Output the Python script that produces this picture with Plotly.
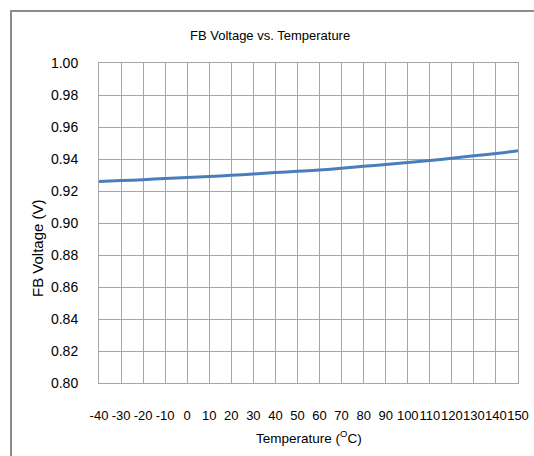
import plotly.graph_objects as go

temperature = [-40, -30, -20, -10, 0, 10, 20, 30, 40, 50, 60, 70, 80, 90, 100, 110, 120, 130, 140, 150]
fb_voltage = [0.9260, 0.9265, 0.9271, 0.9278, 0.9285, 0.9291, 0.9298, 0.9306, 0.9315, 0.9323,
              0.9331, 0.9342, 0.9354, 0.9365, 0.9378, 0.9390, 0.9404, 0.9420, 0.9434, 0.9452]
x_ticks = list(range(-40, 151, 10))
y_ticks = [0.80, 0.82, 0.84, 0.86, 0.88, 0.90, 0.92, 0.94, 0.96, 0.98, 1.00]

W, H = 534, 456
L, R, T, B = 99, 16, 63, 73
pw, ph = W - L - R, H - T - B

FONT = "Liberation Sans, Arial, sans-serif"
GRID = "#a6a6a6"

fig = go.Figure()
fig.add_trace(go.Scatter(
    x=temperature, y=fb_voltage, mode="lines",
    line=dict(color="#4a7ebb", width=3, shape="spline", smoothing=0.6),
    hoverinfo="x+y", showlegend=False,
))

fig.update_layout(
    width=W, height=H,
    margin=dict(l=L, r=R, t=T, b=B, pad=0, autoexpand=False),
    paper_bgcolor="white", plot_bgcolor="white",
    font=dict(family=FONT, size=14, color="#000000"),
    xaxis=dict(
        range=[-40, 150], tickvals=x_ticks, ticktext=[str(v) for v in x_ticks],
        tickangle=0, automargin=False,
        showgrid=True, gridcolor=GRID, gridwidth=1,
        showline=True, linecolor=GRID, linewidth=1, mirror=True,
        ticks="outside", ticklen=0, tickcolor="rgba(0,0,0,0)",
        ticklabelstandoff=20, zeroline=False,
        tickfont=dict(family=FONT, size=13),
    ),
    yaxis=dict(
        range=[0.80, 1.00], tickvals=y_ticks, ticktext=[f"{v:.2f}" for v in y_ticks],
        automargin=False,
        showgrid=True, gridcolor=GRID, gridwidth=1,
        showline=True, linecolor=GRID, linewidth=1, mirror=True,
        ticks="outside", ticklen=0, tickcolor="rgba(0,0,0,0)",
        ticklabelstandoff=17, zeroline=False,
        tickfont=dict(family=FONT, size=14),
    ),
    annotations=[
        dict(text="FB Voltage vs. Temperature", xref="paper", yref="paper",
             x=(270 - L) / pw, y=1 + (T - 36) / ph, xanchor="center", yanchor="middle",
             showarrow=False, font=dict(family=FONT, size=13)),
        dict(text="Temperature (<sup>O</sup>C)", xref="paper", yref="paper",
             x=(309 - L) / pw, y=-(437 - (T + ph)) / ph, xanchor="center", yanchor="middle",
             showarrow=False, font=dict(family=FONT, size=13.5)),
        dict(text="FB Voltage (V)", xref="paper", yref="paper", textangle=-90,
             x=(37 - L) / pw, y=1 - (248 - T) / ph, xanchor="center", yanchor="middle",
             showarrow=False, font=dict(family=FONT, size=15)),
    ],
    shapes=[
        dict(type="rect", xref="paper", yref="paper",
             x0=(11 - L) / pw, x1=(W + 20 - L) / pw,
             y0=-(H + 20 - (T + ph)) / ph, y1=1 + (T - 11) / ph,
             line=dict(color="#8c8c8c", width=2), fillcolor="rgba(0,0,0,0)", layer="below"),
    ],
)

fig.write_html("out.html", config={"displayModeBar": False},
               post_script="document.body.style.margin='0';")
